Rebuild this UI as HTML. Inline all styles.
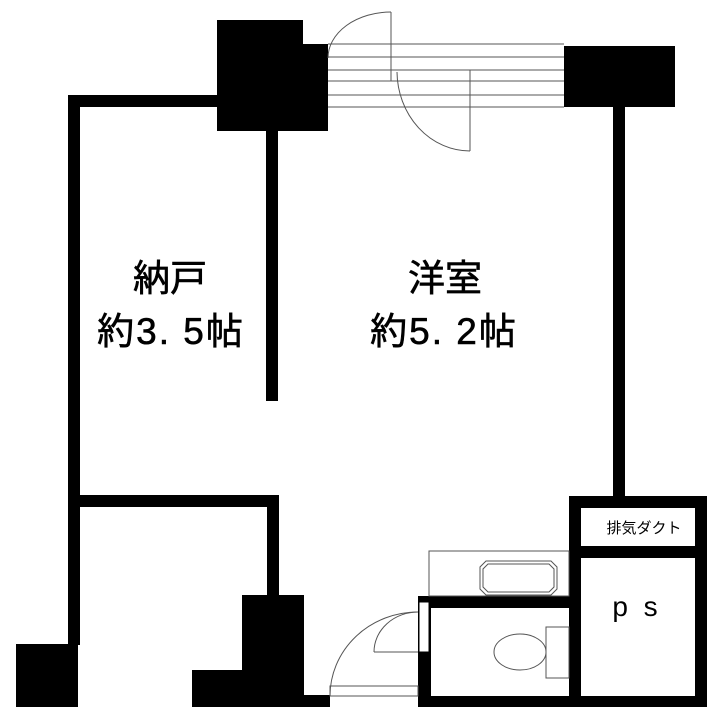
<!DOCTYPE html>
<html><head><meta charset="utf-8"><style>
body{margin:0;background:#fff;}
svg{display:block;}
text{font-family:"Liberation Sans","Noto Sans CJK JP",sans-serif;fill:#000;}
</style></head><body>
<svg width="720" height="718" viewBox="0 0 720 718" xmlns="http://www.w3.org/2000/svg">
<g fill="#000">
<rect x="217" y="20" width="86" height="111"/>
<rect x="303" y="44" width="25" height="87"/>
<rect x="68" y="95" width="150" height="12"/>
<rect x="68" y="95" width="12" height="550"/>
<rect x="266" y="131" width="12" height="270"/>
<rect x="564" y="46" width="111" height="61"/>
<rect x="613" y="107" width="12" height="392"/>
<rect x="68" y="495" width="211" height="12"/>
<rect x="267" y="495" width="12" height="102"/>
<rect x="16" y="644" width="62" height="63"/>
<rect x="242" y="595" width="62" height="112"/>
<rect x="192" y="670" width="52" height="37"/>
<rect x="304" y="695" width="26" height="12"/>
<rect x="418" y="596" width="13" height="111"/>
<rect x="418" y="596" width="152" height="12"/>
<rect x="569" y="496" width="12" height="211"/>
<rect x="695" y="496" width="12" height="211"/>
<rect x="569" y="496" width="138" height="12"/>
<rect x="569" y="546" width="138" height="12"/>
<rect x="418" y="696" width="289" height="11"/>
</g>
<g stroke="#555" stroke-width="1" fill="none">
<line x1="328" y1="44" x2="564" y2="44"/>
<line x1="328" y1="57" x2="564" y2="57"/>
<line x1="328" y1="70" x2="564" y2="70"/>
<line x1="328" y1="81" x2="564" y2="81"/>
<line x1="328" y1="95" x2="564" y2="95"/>
<line x1="328" y1="107" x2="564" y2="107"/>
<line x1="391" y1="12" x2="391" y2="81"/>
<path d="M391 12 A63 46 0 0 0 328 58"/>
<line x1="397" y1="70" x2="470" y2="70"/>
<line x1="470" y1="70" x2="470" y2="151"/>
<path d="M397 72 A73 80 0 0 0 470 151"/>
<rect x="330" y="686" width="88" height="10"/>
<rect x="419" y="602" width="10" height="50" fill="#fff" stroke="#000"/>
<line x1="374" y1="652" x2="418" y2="652"/>
<path d="M374 652 A44 40 0 0 1 418 612"/>
<path d="M330 696 A88 84 0 0 1 418 612"/>
<rect x="429" y="551" width="140" height="45"/>
<path d="M486 561 L551 561 L557 567 L557 589 L551 595 L486 595 L480 589 L480 567 Z"/>
<path d="M488 564 L549 564 L554 569 L554 587 L549 592 L488 592 L483 587 L483 569 Z"/>
<rect x="546" y="627" width="23" height="51"/>
<ellipse cx="520" cy="652" rx="26" ry="18"/>
</g>
<g stroke="#000" stroke-width="0.6">
<text x="170" y="291" font-size="37" text-anchor="middle">納戸</text>
<text x="171" y="344" font-size="37" text-anchor="middle" letter-spacing="2">約3. 5帖</text>
<text x="445" y="291" font-size="37" text-anchor="middle">洋室</text>
<text x="444" y="344" font-size="37" text-anchor="middle" letter-spacing="2">約5. 2帖</text>
</g>
<text x="644" y="533" font-size="15" text-anchor="middle">排気ダクト</text>
<text x="637" y="616" font-size="28" text-anchor="middle" letter-spacing="4">p s</text>
</svg>
</body></html>
